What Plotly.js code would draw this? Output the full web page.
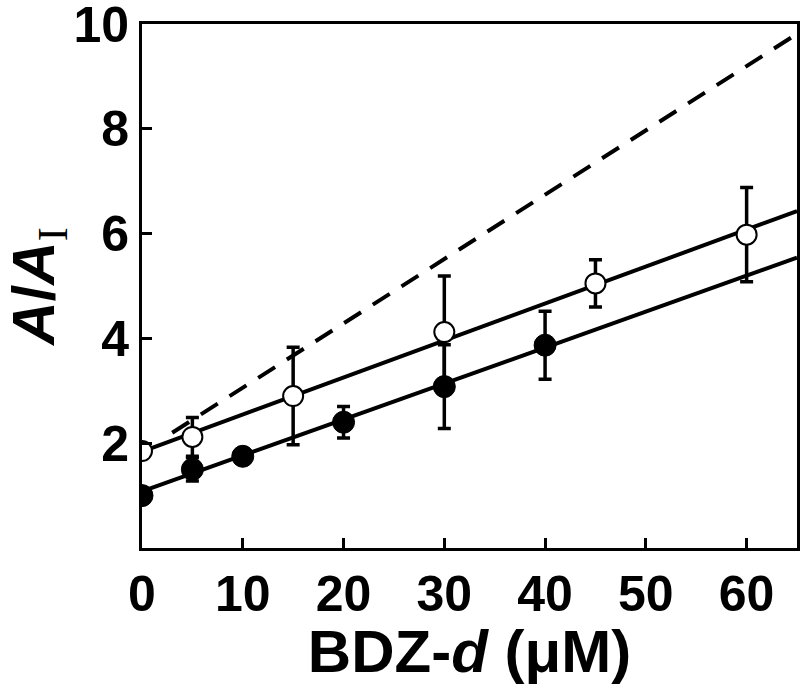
<!DOCTYPE html>
<html>
<head>
<meta charset="utf-8">
<script src="https://cdn.plot.ly/plotly-3.0.1.min.js"></script>
<style>html,body{margin:0;padding:0;background:#fff;}#chart{width:800px;height:685px;}</style>
</head>
<body>
<div id="chart"></div>
<script>
// Filled circles
const xFilled = [0, 5, 10, 20, 30, 40];
const yFilled = [1.0, 1.5, 1.75, 2.4, 3.08, 3.87];
const errFilled = [0.1, 0.22, 0.1, 0.3, 0.8, 0.65];
// Open circles
const xOpen = [0, 5, 15, 30, 45, 60];
const yOpen = [1.85, 2.12, 2.9, 4.12, 5.05, 5.98];
const errOpen = [0.1, 0.37, 0.93, 1.07, 0.45, 0.9];
// Fit lines (endpoints)
const fitFilledX = [0, 65];
const fitFilledY = [1.08, 5.54];
const fitOpenX = [0, 65];
const fitOpenY = [1.84, 6.43];
const dashX = [3, 64.5];
const dashY = [2.2, 9.75];
// Ticks
const xTicks = [0, 10, 20, 30, 40, 50, 60];
const yTicks = [2, 4, 6, 8, 10];

const FONT = '"Liberation Sans", Arial, sans-serif';

const traces = [
  {x: dashX, y: dashY, mode: 'lines', line: {color: '#000', width: 4, dash: '20px,14px'}, hoverinfo: 'skip'},
  {x: fitOpenX, y: fitOpenY, mode: 'lines', line: {color: '#000', width: 4}, hoverinfo: 'skip'},
  {x: fitFilledX, y: fitFilledY, mode: 'lines', line: {color: '#000', width: 4}, hoverinfo: 'skip'},
  {x: xFilled, y: yFilled, mode: 'markers', type: 'scatter',
   marker: {symbol: 'circle', size: 22, color: '#000', line: {color: '#000', width: 1}},
   error_y: {type: 'data', array: errFilled, visible: true, color: '#000', thickness: 3.5, width: 6.5}},
  {x: xOpen, y: yOpen, mode: 'markers', type: 'scatter',
   marker: {symbol: 'circle', size: 20, color: '#fff', line: {color: '#000', width: 2}},
   error_y: {type: 'data', array: errOpen, visible: true, color: '#000', thickness: 3.5, width: 6.5}}
];

const layout = {
  width: 800, height: 685,
  margin: {l: 142, r: 3, t: 24, b: 137},
  paper_bgcolor: '#fff', plot_bgcolor: '#fff',
  showlegend: false,
  font: {family: FONT, color: '#000'},
  xaxis: {
    range: [0, 65], tickvals: xTicks, ticktext: xTicks.map(String),
    showgrid: false, zeroline: false,
    showline: true, mirror: true, linewidth: 3, linecolor: '#000',
    ticks: 'inside', ticklen: 10, tickwidth: 3, tickcolor: '#000',
    ticklabeloverflow: 'allow',
    tickfont: {family: FONT, size: 50, weight: 'bold', color: '#000'},
    title: {text: 'BDZ-<i>d</i> (\u03bcM)', font: {family: FONT, size: 60, weight: 'bold', color: '#000'}, standoff: 8}
  },
  yaxis: {
    range: [0, 10], tickvals: yTicks, ticktext: yTicks.map(String),
    showgrid: false, zeroline: false,
    showline: true, mirror: true, linewidth: 3, linecolor: '#000',
    ticks: 'inside', ticklen: 10, tickwidth: 3, tickcolor: '#000',
    ticklabeloverflow: 'allow',
    tickfont: {family: FONT, size: 50, weight: 'bold', color: '#000'},
    title: {text: '<i>A</i>/<i>A</i><sub><span style="font-family:\'Liberation Serif\',serif;font-weight:normal">I</span></sub>',
            font: {family: FONT, size: 60, weight: 'bold', color: '#000'}, standoff: 46}
  }
};

Plotly.newPlot('chart', traces, layout, {displayModeBar: false, staticPlot: true});
</script>
</body>
</html>
